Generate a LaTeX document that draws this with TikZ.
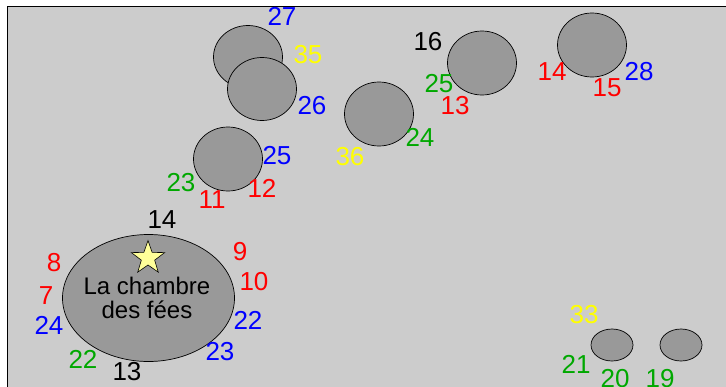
\documentclass[tikz,border=0pt]{standalone}
\usepackage{fontspec}
\setmainfont{Liberation Sans}
\usetikzlibrary{shapes.geometric}
\definecolor{bg}{HTML}{CCCCCC}
\definecolor{room}{HTML}{999999}
\definecolor{lblred}{HTML}{FF0000}
\definecolor{lblblue}{HTML}{0000FF}
\definecolor{lblgreen}{HTML}{00A800}
\definecolor{lblyellow}{HTML}{FFFF00}
\definecolor{starfill}{HTML}{FFFF99}
\tikzset{
  roomshape/.style={ellipse, draw=black, line width=0.7pt, fill=room, inner sep=0pt},
  num/.style={font=\fontsize{26}{26}\selectfont, inner sep=0pt, anchor=center},
  R/.style={num, text=lblred},
  B/.style={num, text=lblblue},
  G/.style={num, text=lblgreen},
  Y/.style={num, text=lblyellow},
  K/.style={num, text=black},
}
\begin{document}
\begin{tikzpicture}[x=1pt,y=-1pt]
\useasboundingbox (0,0) rectangle (726,386);
\clip (0,0) rectangle (726,386);
\fill[white] (0,0) rectangle (726,386);
\draw[fill=bg, line width=0.8pt] (7,6) rectangle (760,420);

% rooms
\node[roomshape, minimum width=69pt, minimum height=63pt] (r1) at (248,57) {};
\node[roomshape, minimum width=69pt, minimum height=63pt] (r2) at (262,89) {};
\node[roomshape, minimum width=69pt, minimum height=64pt] (r3) at (228,159) {};
\node[roomshape, minimum width=69pt, minimum height=64pt] (r4) at (379,114) {};
\node[roomshape, minimum width=69pt, minimum height=64pt] (r5) at (482,63) {};
\node[roomshape, minimum width=69pt, minimum height=64pt] (r6) at (592,45) {};
\node[roomshape, minimum width=172pt, minimum height=127pt] (big) at (148.5,298) {};
\node[roomshape, minimum width=42pt, minimum height=32pt] (s1) at (612,345) {};
\node[roomshape, minimum width=42pt, minimum height=32pt] (s2) at (681,345) {};

% star and title
\node[star, star points=5, star point ratio=2.5, minimum size=35pt, inner sep=0pt,
      draw=black, line width=0.6pt, fill=starfill] (star) at (148,258) {};
\node[align=center, font=\fontsize{24}{24.5}\selectfont, inner sep=0pt] (title) at (147,298)
  {La chambre\\des fées};

% labels
\node[B] (l27) at (282,16) {27};
\node[Y] (l35) at (308,55) {35};
\node[B] (l26) at (312,106) {26};
\node[B] (l25b) at (277,156) {25};
\node[G] (l23g) at (181,183) {23};
\node[R] (l12) at (262,188) {12};
\node[R] (l11) at (212,200) {11};
\node[Y] (l36) at (350,157) {36};
\node[K] (l16) at (428,42) {16};
\node[G] (l25g) at (439,84) {25};
\node[R] (l13r) at (455,106) {13};
\node[G] (l24g) at (420,137) {24};
\node[R] (l14r) at (552,72) {14};
\node[R] (l15) at (607,88) {15};
\node[B] (l28) at (639,72) {28};
\node[K] (l14k) at (162,220) {14};
\node[R] (l9) at (240,252) {9};
\node[R] (l8) at (54,263) {8};
\node[R] (l10) at (254,282) {10};
\node[R] (l7) at (46,296) {7};
\node[B] (l24b) at (49,325) {24};
\node[B] (l22b) at (248,320) {22};
\node[B] (l23b) at (220,352) {23};
\node[G] (l22g) at (83,359) {22};
\node[K] (l13k) at (127,372) {13};
\node[Y] (l33) at (584,315) {33};
\node[G] (l21) at (576,364) {21};
\node[G] (l20) at (615,379) {20};
\node[G] (l19) at (660,379) {19};
\end{tikzpicture}
\end{document}
